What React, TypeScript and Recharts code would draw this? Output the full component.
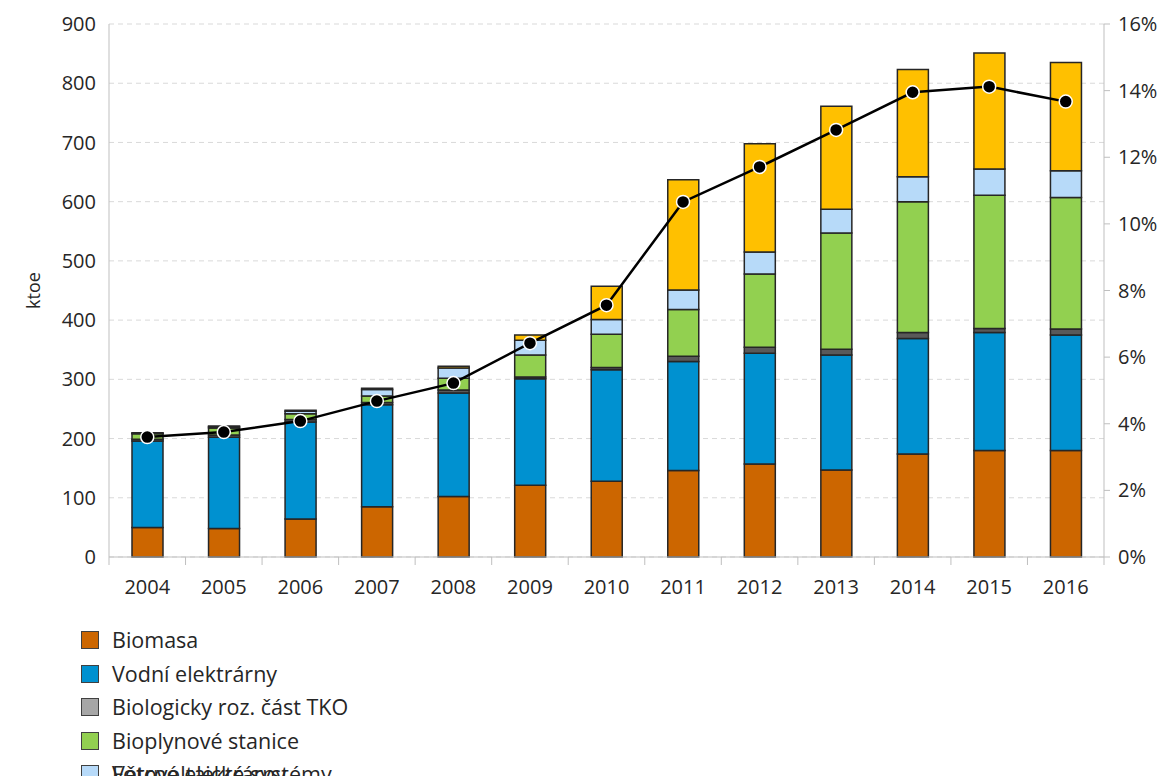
import {
  Bar,
  CartesianGrid,
  ComposedChart,
  Legend,
  Line,
  XAxis,
  YAxis,
} from "recharts";

const years = [
  "2004", "2005", "2006", "2007", "2008", "2009", "2010",
  "2011", "2012", "2013", "2014", "2015", "2016",
];
const biomasa = [50, 48, 64, 85, 102, 121, 128, 146, 157, 147, 174, 180, 180];
const vodni = [146, 154, 164, 172, 175, 180, 188, 184, 187, 194, 195, 199, 195];
const tko = [3, 4, 4, 4, 5, 3, 4, 9, 10, 10, 10, 7, 10];
const bioplyn = [9, 12, 10, 11, 20, 37, 56, 79, 124, 196, 221, 225, 222];
const vitr = [1, 2, 4, 11, 17, 25, 25, 33, 37, 40, 42, 44, 45];
const fotovoltaika = [1, 1, 2, 2, 3, 9, 56, 186, 183, 174, 181, 196, 183];
const podil = [3.6, 3.75, 4.08, 4.68, 5.22, 6.42, 7.56, 10.66, 11.71, 12.82, 13.95, 14.12, 13.67];

const leftTicks = [0, 100, 200, 300, 400, 500, 600, 700, 800, 900];
const rightTicks = [0, 2, 4, 6, 8, 10, 12, 14, 16];

const series = [
  { key: "biomasa", name: "Biomasa", color: "#cc6600", box: "#cc6600" },
  { key: "vodni", name: "Vodní elektrárny", color: "#0091d0", box: "#0091d0" },
  { key: "tko", name: "Biologicky roz. část TKO", color: "#595959", box: "#a6a6a6" },
  { key: "bioplyn", name: "Bioplynové stanice", color: "#92d050", box: "#92d050" },
  { key: "vitr", name: "Větrné elektrárny", color: "#b7daf9", box: "#b7daf9" },
  { key: "fv", name: "Fotovoltaické systémy", color: "#ffc000", box: "#ffc000" },
];

const data = years.map((year, i) => ({
  year,
  biomasa: biomasa[i],
  vodni: vodni[i],
  tko: tko[i],
  bioplyn: bioplyn[i],
  vitr: vitr[i],
  fv: fotovoltaika[i],
  podil: podil[i],
}));

const FONT = "'Open Sans', sans-serif";
const AXIS = "#bfbfbf";

function YearTick(props: any) {
  const { x, y, payload, index, width, visibleTicksCount } = props;
  const band = width && visibleTicksCount ? width / visibleTicksCount : 76.5;
  const axisY = y - 8;
  return (
    <g>
      <line x1={x - band / 2} x2={x - band / 2} y1={axisY} y2={axisY + 8} stroke={AXIS} />
      {index === years.length - 1 && (
        <line x1={x + band / 2} x2={x + band / 2} y1={axisY} y2={axisY + 8} stroke={AXIS} />
      )}
      <text x={x} y={axisY + 37} textAnchor="middle" fill="#262626" fontSize={20} fontFamily={FONT}>
        {payload.value}
      </text>
    </g>
  );
}

function LegendBox(p: { color: string }) {
  return (
    <span
      style={{
        display: "inline-block",
        width: 16,
        height: 16,
        background: p.color,
        border: "1px solid #404040",
        position: "absolute",
        left: 0,
        top: 8,
      }}
    />
  );
}

function renderLegend() {
  const rows = series.slice(0, 4);
  const rowStyle: any = { position: "relative", height: 33.5, lineHeight: "33.5px" };
  const textStyle: any = { position: "absolute", left: 31, top: 0, whiteSpace: "nowrap" };
  return (
    <div
      style={{
        position: "absolute",
        left: 81,
        top: 623,
        fontFamily: FONT,
        fontSize: 21.5,
        color: "#262626",
        width: 400,
      }}
    >
      {rows.map((s) => (
        <div key={s.key} style={rowStyle}>
          <LegendBox color={s.box} />
          <span style={textStyle}>{s.name}</span>
        </div>
      ))}
      <div style={rowStyle}>
        <LegendBox color={series[5].box} />
        <LegendBox color={series[4].box} />
        <span style={textStyle}>{series[4].name}</span>
        <span style={textStyle}>{series[5].name}</span>
      </div>
    </div>
  );
}

export default function App() {
  return (
    <div
      style={{
        position: "absolute",
        left: 0,
        top: 0,
        width: 1166,
        height: 776,
        overflow: "hidden",
        background: "#fff",
      }}
    >
      <ComposedChart
        width={1166}
        height={776}
        data={data}
        margin={{ top: 24, right: 0, bottom: 179, left: 0 }}
        barSize={31}
      >
        <CartesianGrid
          vertical={false}
          yAxisId="left"
          stroke="#d9d9d9"
          strokeDasharray="5 4"
        />
        <XAxis
          dataKey="year"
          height={40}
          tickLine={false}
          tickSize={8}
          tickMargin={0}
          axisLine={{ stroke: AXIS }}
          tick={<YearTick />}
          interval={0}
        />
        <YAxis
          yAxisId="left"
          width={109}
          domain={[0, 900]}
          ticks={leftTicks}
          tickLine={false}
          tickMargin={7}
          axisLine={{ stroke: AXIS }}
          tick={{ fill: "#262626", fontSize: 20, fontFamily: FONT }}
          label={{
            value: "ktoe",
            angle: -90,
            position: "insideLeft",
            offset: 34,
            style: { fill: "#262626", fontSize: 18, fontFamily: FONT, textAnchor: "middle" },
          }}
        />
        <YAxis
          yAxisId="right"
          orientation="right"
          width={62}
          domain={[0, 16]}
          ticks={rightTicks}
          tickSize={6}
          tickMargin={8}
          tickLine={{ stroke: AXIS }}
          axisLine={{ stroke: AXIS }}
          tickFormatter={(v) => `${v}%`}
          tick={{ fill: "#262626", fontSize: 20, fontFamily: FONT }}
        />
        {series.map((s) => (
          <Bar
            key={s.key}
            yAxisId="left"
            dataKey={s.key}
            name={s.name}
            stackId="a"
            fill={s.color}
            stroke="#262626"
            strokeWidth={1.5}
            isAnimationActive={false}
          />
        ))}
        <Line
          yAxisId="right"
          dataKey="podil"
          stroke="#000"
          strokeWidth={2.5}
          dot={{ r: 6.5, fill: "#000", stroke: "#fff", strokeWidth: 1.5 }}
          activeDot={false}
          isAnimationActive={false}
        />
        <Legend
          layout="vertical"
          align="center"
          verticalAlign="middle"
          wrapperStyle={{ left: 0, top: 0, width: 1166, height: 776 }}
          content={renderLegend}
        />
      </ComposedChart>
    </div>
  );
}
